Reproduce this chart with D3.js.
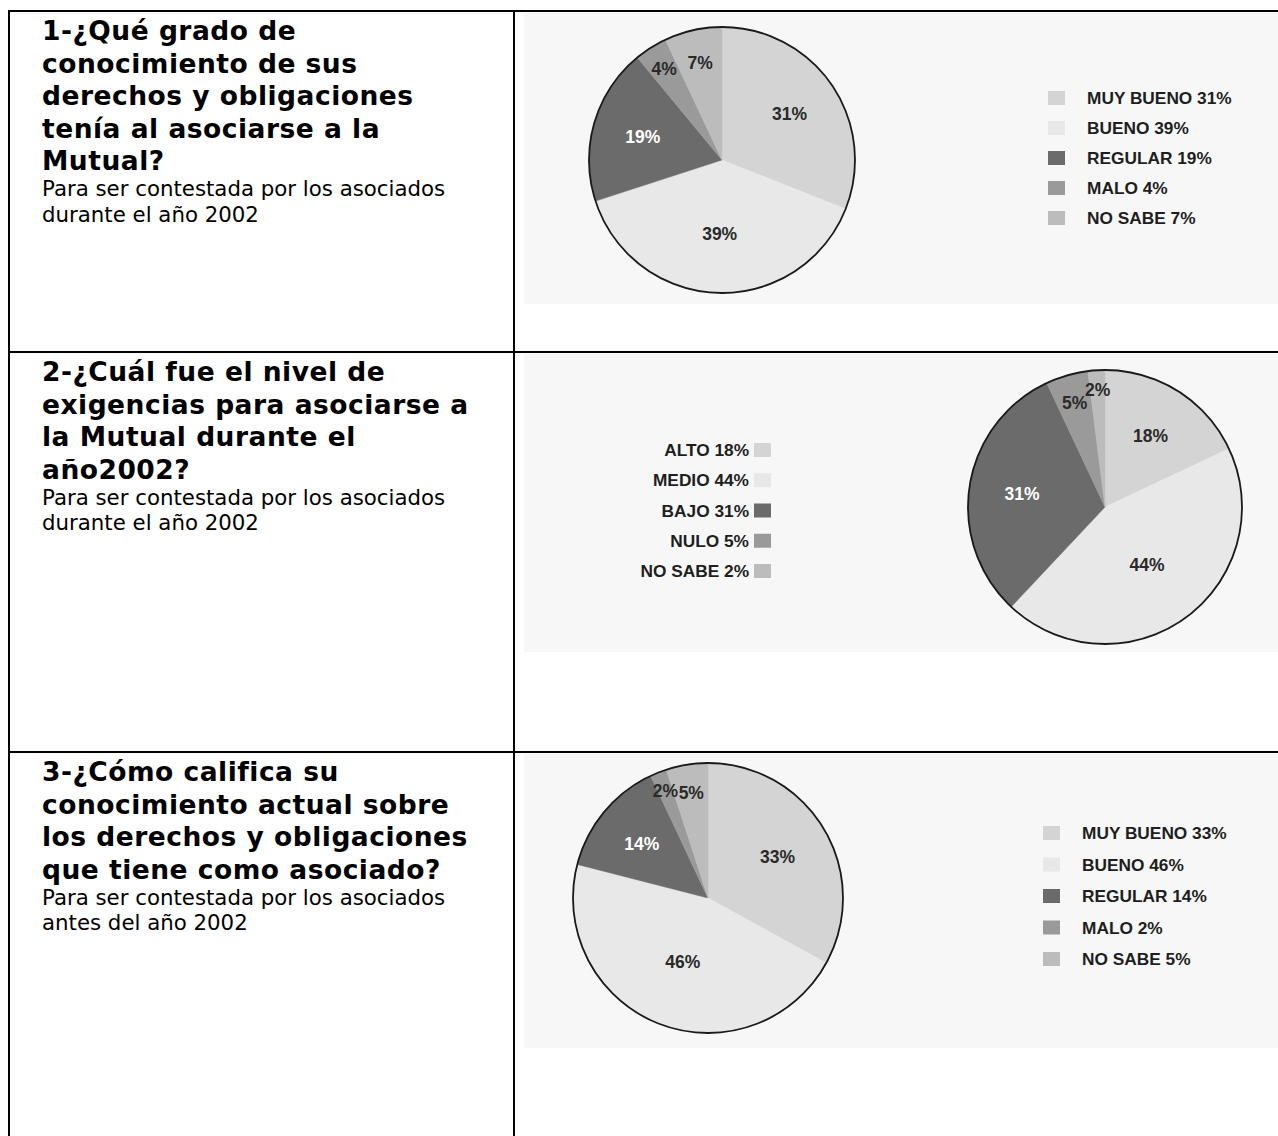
<!DOCTYPE html>
<html><head><meta charset="utf-8">
<script src="https://cdn.jsdelivr.net/npm/d3@7"></script>
<style>html,body{margin:0;padding:0;background:#fff;} svg{display:block}</style>
</head><body><svg id="c" width="1278" height="1136"></svg>
<script>
// ---- data ----
const q1Title = ["1-¿Qué grado de", "conocimiento de sus", "derechos y obligaciones", "tenía al asociarse a la", "Mutual?"];
const q1Note = ["Para ser contestada por los asociados", "durante el año 2002"];
const q1Labels = ["MUY BUENO", "BUENO", "REGULAR", "MALO", "NO SABE"];
const q1Values = [31, 39, 19, 4, 7];

const q2Title = ["2-¿Cuál fue el nivel de", "exigencias para asociarse a", "la Mutual durante el", "año2002?"];
const q2Note = ["Para ser contestada por los asociados", "durante el año 2002"];
const q2Labels = ["ALTO", "MEDIO", "BAJO", "NULO", "NO SABE"];
const q2Values = [18, 44, 31, 5, 2];

const q3Title = ["3-¿Cómo califica su", "conocimiento actual sobre", "los derechos y obligaciones", "que tiene como asociado?"];
const q3Note = ["Para ser contestada por los asociados", "antes del año 2002"];
const q3Labels = ["MUY BUENO", "BUENO", "REGULAR", "MALO", "NO SABE"];
const q3Values = [33, 46, 14, 2, 5];

// ---- styling / layout ----
const sliceColors = ["#d4d4d4", "#e8e8e8", "#6b6b6b", "#9a9a9a", "#bcbcbc"];
const layout = [
  {top: 11,  cx: 722,  cy: 160, r: 133, side: "right", lx: 1048, ly0: 98,  ly1: 218, scanH: 291},
  {top: 352, cx: 1105, cy: 507, r: 137, side: "left",  lx: 771,  ly0: 450, ly1: 571, scanH: 298},
  {top: 752, cx: 708,  cy: 898, r: 135, side: "right", lx: 1043, ly0: 833, ly1: 959, scanH: 294}
];
const questions = [
  {title: q1Title, note: q1Note, labels: q1Labels, values: q1Values},
  {title: q2Title, note: q2Note, labels: q2Labels, values: q2Values},
  {title: q3Title, note: q3Note, labels: q3Labels, values: q3Values}
];

const svg = d3.select("#c");
const W = 1278, H = 1136, divX = 514, leftX = 9;

// scanned-image background
layout.forEach(L => {
  svg.append("rect").attr("x", 524).attr("y", L.top + 2).attr("width", W - 524)
    .attr("height", L.scanH).attr("fill", "#f7f7f7");
});

const color = d3.scaleOrdinal().domain(d3.range(5)).range(sliceColors);
const labelR = d3.scaleLinear().domain([0, 6, 15, 30, 50]).range([0.9, 0.77, 0.62, 0.62, 0.48]);
const pie = d3.pie().sort(null).value(d => d.v);

questions.forEach((q, qi) => {
  const L = layout[qi];
  // left text cell
  const t = svg.append("text").attr("x", 42).attr("font-family", "DejaVu Sans, Verdana, sans-serif")
    .attr("fill", "#000");
  q.title.forEach((line, i) => {
    t.append("tspan").attr("x", 42).attr("y", L.top + 29 + i * 32.5)
      .attr("font-size", 26.5).attr("letter-spacing", 0.5).attr("font-weight", "bold").text(line);
  });
  const lastY = L.top + 29 + (q.title.length - 1) * 32.5;
  q.note.forEach((line, i) => {
    t.append("tspan").attr("x", 42).attr("y", lastY + 26 + i * 25.5)
      .attr("font-size", 21.3).attr("letter-spacing", 0).text(line);
  });

  // pie
  const data = q.labels.map((l, i) => ({l, v: q.values[i], i}));
  const arcs = pie(data);
  const arc = d3.arc().innerRadius(0).outerRadius(L.r);
  const g = svg.append("g").attr("transform", `translate(${L.cx},${L.cy})`);
  g.selectAll("path.s").data(arcs).join("path").attr("class", "s")
    .attr("d", arc).attr("fill", d => color(d.data.i))
    .attr("stroke", d => color(d.data.i)).attr("stroke-width", 0.5);
  g.append("circle").attr("r", L.r).attr("fill", "none").attr("stroke", "#1a1a1a").attr("stroke-width", 1.8);
  g.selectAll("text.p").data(arcs).join("text").attr("class", "p")
    .attr("transform", d => {
      const k = labelR(d.data.v) * L.r;
      const a = (d.startAngle + d.endAngle) / 2;
      return `translate(${Math.sin(a) * k},${-Math.cos(a) * k})`;
    })
    .attr("text-anchor", "middle").attr("dy", "0.36em")
    .attr("font-family", "Liberation Sans, Arial, sans-serif").attr("font-weight", "bold")
    .attr("font-size", 17.5)
    .attr("fill", d => d3.hsl(color(d.data.i)).l < 0.5 ? "#ffffff" : "#2a2a2a")
    .text(d => d.data.v + "%");

  // legend
  const ly = d3.scalePoint().domain(q.labels.map((l, i) => i)).range([L.ly0, L.ly1]);
  const lg = svg.append("g");
  data.forEach(d => {
    const y = ly(d.i);
    if (L.side === "right") {
      lg.append("rect").attr("x", L.lx).attr("y", y - 7).attr("width", 17).attr("height", 14)
        .attr("fill", color(d.i));
      lg.append("text").attr("x", L.lx + 39).attr("y", y).attr("dy", "0.36em")
        .attr("font-family", "Liberation Sans, Arial, sans-serif").attr("font-weight", "bold")
        .attr("font-size", 17.3).attr("fill", "#1e1e1e").text(d.l + " " + d.v + "%");
    } else {
      lg.append("rect").attr("x", L.lx - 17).attr("y", y - 7).attr("width", 17).attr("height", 14)
        .attr("fill", color(d.i));
      lg.append("text").attr("x", L.lx - 22).attr("y", y).attr("dy", "0.36em")
        .attr("text-anchor", "end")
        .attr("font-family", "Liberation Sans, Arial, sans-serif").attr("font-weight", "bold")
        .attr("font-size", 17.3).attr("fill", "#1e1e1e").text(d.l + " " + d.v + "%");
    }
  });
});

// table borders
const bl = svg.append("g").attr("stroke", "#000").attr("stroke-width", 2);
bl.append("line").attr("x1", leftX).attr("x2", leftX).attr("y1", 10).attr("y2", H);
bl.append("line").attr("x1", divX).attr("x2", divX).attr("y1", 10).attr("y2", H);
layout.forEach(L => {
  bl.append("line").attr("x1", leftX - 1).attr("x2", W).attr("y1", L.top).attr("y2", L.top);
});
</script>
</body></html>
